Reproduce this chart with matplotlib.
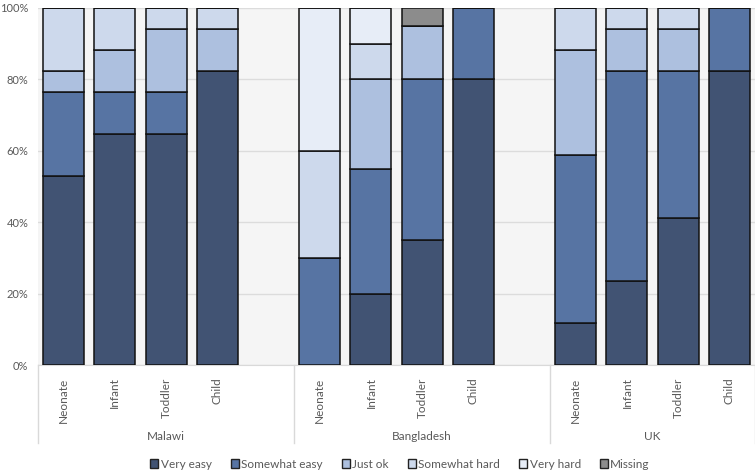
import matplotlib
matplotlib.use("Agg")
import matplotlib.pyplot as plt
from matplotlib.patches import Patch
import numpy as np

plt.rcParams['font.family'] = ['Lato', 'DejaVu Sans']

# data (percent of respondents per category)
countries = ['Malawi', 'Bangladesh', 'UK']
ages = ['Neonate', 'Infant', 'Toddler', 'Child']
responses = ['Very easy', 'Somewhat easy', 'Just ok', 'Somewhat hard', 'Very hard', 'Missing']

very_easy     = [52.9, 64.7, 64.7, 82.4,   0, 20, 35, 80,   11.8, 23.5, 41.2, 82.4]
somewhat_easy = [23.5, 11.8, 11.8,  0.0,  30, 35, 45, 20,   47.1, 58.8, 41.2, 17.6]
just_ok       = [ 5.9, 11.8, 17.6, 11.8,   0, 25, 15,  0,   29.4, 11.8, 11.8,  0.0]
somewhat_hard = [17.6, 11.8,  5.9,  5.9,  30, 10,  0,  0,   11.8,  5.9,  5.9,  0.0]
very_hard     = [ 0.0,  0.0,  0.0,  0.0,  40, 10,  0,  0,    0.0,  0.0,  0.0,  0.0]
missing       = [ 0.0,  0.0,  0.0,  0.0,   0,  0,  5,  0,    0.0,  0.0,  0.0,  0.0]

series = [very_easy, somewhat_easy, just_ok, somewhat_hard, very_hard, missing]
colors = ['#415373', '#5774a3', '#adc0df', '#cdd9ec', '#e7edf7', '#8c8c8c']

# each country takes 5 slots (4 bars + gap), the last has no gap
xpos = []
for g in range(len(countries)):
    for a in range(len(ages)):
        xpos.append(g * 5 + a)
xpos = np.array(xpos)

W, H = 755, 472
top_px, base_px = 8, 365
fig = plt.figure(figsize=(W / 100, H / 100), dpi=100)
ax = fig.add_axes([38 / W, 1 - base_px / H, (755 - 38) / W, (base_px - top_px) / H])
ax.set_facecolor('#f5f5f5')

bottom = np.zeros(len(xpos))
for vals, col in zip(series, colors):
    vals = np.array(vals)
    ax.bar(xpos, vals, bottom=bottom, width=0.8, color=col,
           edgecolor='#111111', linewidth=1.1, zorder=3)
    bottom += vals

ax.set_xlim(-0.5, 13.5)
ax.set_ylim(0, 100)
ax.set_yticks(range(0, 101, 20))
ax.set_yticklabels([f'{v}%' for v in range(0, 101, 20)], color='#595959', fontsize=8)
ax.yaxis.grid(True, color='#dcdcdc', linewidth=1, zorder=0)
ax.tick_params(axis='y', length=0, pad=7)

ax.set_xticks(xpos)
ax.set_xticklabels(ages * len(countries), rotation=90, color='#595959', fontsize=8.5)
ax.tick_params(axis='x', length=0, pad=9)

for s in ['top', 'right', 'left']:
    ax.spines[s].set_visible(False)
ax.spines['bottom'].set_color('#d9d9d9')

# group labels and separators under the axis
trans = ax.get_xaxis_transform()
span = base_px - top_px
sep_depth = (443 - base_px) / span
for x in [-0.5, 4.5, 9.5, 13.5]:
    ax.plot([x, x], [0, -sep_depth], transform=trans, color='#d9d9d9',
            linewidth=1, clip_on=False)
for g, name in enumerate(countries):
    ax.text(g * 5 + 1.5 if g == 2 else g * 5 + 2, -(437 - base_px) / span, name,
            transform=trans, ha='center', va='center', color='#595959', fontsize=8.5)

handles = [Patch(facecolor=c, edgecolor='#222222', linewidth=1) for c in colors]
fig.legend(handles, responses, loc='center', bbox_to_anchor=(400 / W, 1 - 464 / H),
           ncol=6, frameon=False, fontsize=8.5, handlelength=0.7, handleheight=0.7,
           handletextpad=0.2, columnspacing=1.6, labelcolor='#595959')

fig.savefig('out.png', dpi=100)
